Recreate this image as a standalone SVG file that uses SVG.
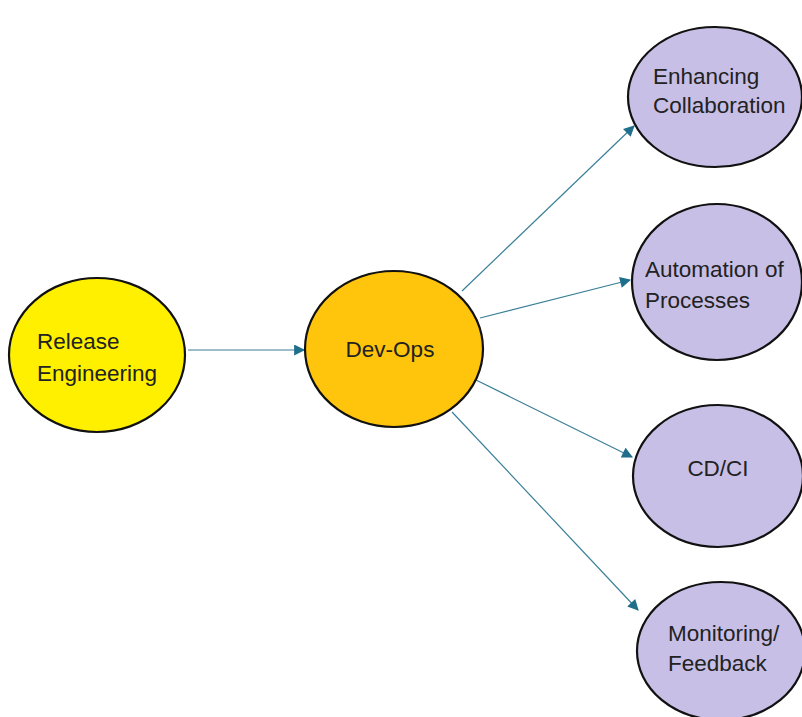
<svg xmlns="http://www.w3.org/2000/svg" width="802" height="717" viewBox="0 0 802 717">
<defs>
<style>
.n{stroke:#111;stroke-width:2.2}
.t{font-family:"Liberation Sans","Noto Sans",sans-serif;font-size:22.5px;fill:#222}
.c{stroke:#3a7f98;stroke-width:1.2;fill:none;marker-end:url(#a)}
</style>
<marker id="a" viewBox="0 0 10 10" refX="9" refY="5" markerWidth="12" markerHeight="11" markerUnits="userSpaceOnUse" orient="auto">
<path d="M0,0 L10,5 L0,10 z" fill="#1f6e8c"/>
</marker>
</defs>
<rect width="802" height="717" fill="#fff"/>
<g id="connectors">
<line class="c" x1="188" y1="350" x2="304" y2="350"/>
<line class="c" x1="462" y1="291" x2="634" y2="126"/>
<line class="c" x1="480" y1="318" x2="630" y2="280"/>
<line class="c" x1="476" y1="380" x2="632" y2="457"/>
<line class="c" x1="452" y1="412" x2="638" y2="610"/>
</g>
<g id="release-engineering">
<ellipse class="n" cx="97" cy="355" rx="88" ry="77" fill="#fff000"/>
<text class="t" x="37" y="349">Release</text>
<text class="t" x="37" y="381">Engineering</text>
</g>
<g id="dev-ops">
<ellipse class="n" cx="394" cy="349" rx="89" ry="78" fill="#fec50c"/>
<text class="t" x="390" y="357" text-anchor="middle">Dev-Ops</text>
</g>
<g id="enhancing-collaboration">
<ellipse class="n" cx="715" cy="97" rx="87" ry="70" fill="#c8bfe6"/>
<text class="t" x="653" y="84">Enhancing</text>
<text class="t" x="653" y="113">Collaboration</text>
</g>
<g id="automation-of-processes">
<ellipse class="n" cx="717" cy="282" rx="85" ry="78" fill="#c8bfe6"/>
<text class="t" x="645" y="277">Automation of</text>
<text class="t" x="645" y="308">Processes</text>
</g>
<g id="cd-ci">
<ellipse class="n" cx="718" cy="476" rx="85" ry="71" fill="#c8bfe6"/>
<text class="t" x="718" y="476" text-anchor="middle">CD/CI</text>
</g>
<g id="monitoring-feedback">
<ellipse class="n" cx="721" cy="651" rx="84" ry="69" fill="#c8bfe6"/>
<text class="t" x="668" y="641">Monitoring/</text>
<text class="t" x="668" y="671">Feedback</text>
</g>
</svg>
